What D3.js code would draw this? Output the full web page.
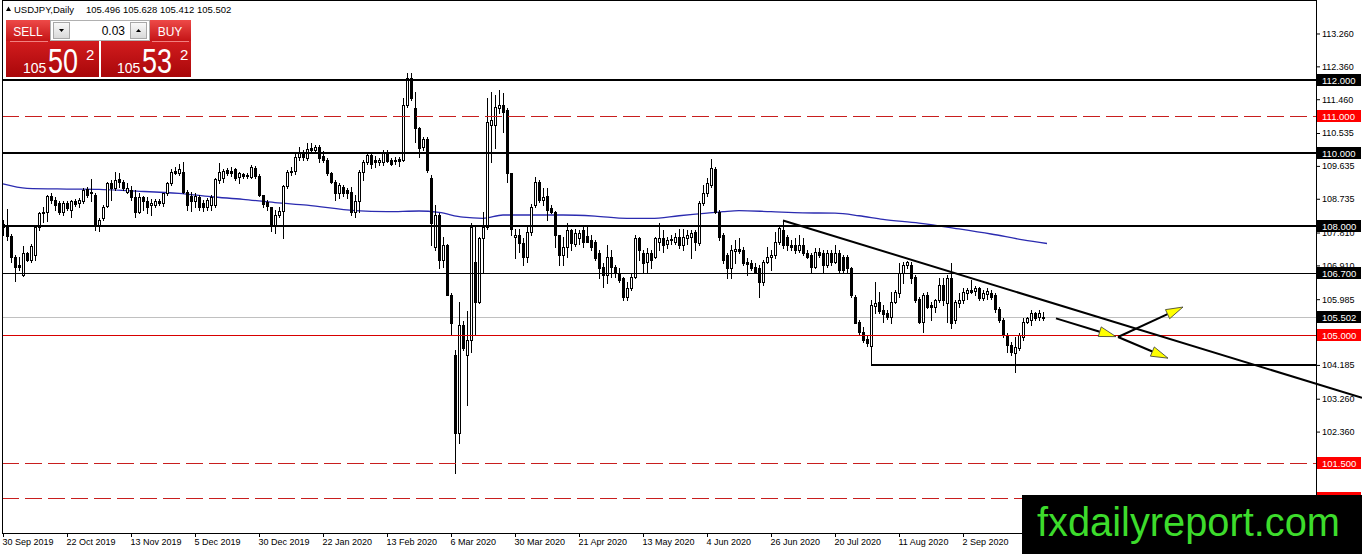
<!DOCTYPE html>
<meta charset="utf-8">
<style>
body { margin: 0; background: #fff; }
svg { display: block; }
text { font-family: "Liberation Sans", Arial, sans-serif; }
</style>
<svg width="1362" height="554"></svg>
<script src="https://cdn.jsdelivr.net/npm/d3@7/dist/d3.min.js"></script>
<script>

// daily candles, 30 Sep 2019 .. 30 Sep 2020 : [open, high, low, close]
var ohlc = [
  [107.95,108.15,107.74,108.04],[108.02,108.45,107.61,107.72],[107.72,107.78,107.01,107.15],[107.15,107.20,106.48,106.88],
  [106.92,107.15,106.78,106.88],[106.65,107.45,106.62,107.24],[107.24,107.29,107.03,107.06],[107.06,107.50,107.00,107.45],
  [107.20,107.97,107.06,107.95],[107.95,108.38,107.88,108.34],[108.34,108.52,108.10,108.38],[108.38,108.85,108.13,108.81],
  [108.80,108.88,108.61,108.70],[108.70,108.79,108.43,108.57],[108.62,108.66,108.33,108.36],[108.38,108.66,108.29,108.61],
  [108.61,108.66,108.43,108.47],[108.43,108.70,108.24,108.66],[108.67,108.72,108.55,108.58],[108.61,108.75,108.52,108.70],
  [108.66,109.02,108.63,108.97],[108.99,109.07,108.79,108.84],[108.88,109.27,108.66,108.93],[108.84,108.88,107.88,107.99],
  [107.99,108.20,107.86,108.15],[108.20,108.56,108.14,108.52],[108.54,109.20,108.52,109.16],[109.16,109.25,108.70,109.02],
  [109.02,109.48,108.97,109.25],[109.27,109.43,109.07,109.20],[109.20,109.25,108.97,109.02],[108.93,109.16,108.88,109.02],
  [108.97,109.08,108.70,108.79],[108.79,108.97,108.24,108.38],[108.38,108.88,108.34,108.79],[108.79,108.80,108.43,108.66],
  [108.66,108.79,108.34,108.52],[108.56,108.74,108.29,108.61],[108.57,108.72,108.50,108.66],[108.66,108.72,108.56,108.61],
  [108.61,108.90,108.55,108.88],[108.88,109.20,108.85,109.16],[109.16,109.55,109.10,109.48],[109.50,109.60,109.40,109.45],
  [109.45,109.68,109.38,109.55],[109.48,109.75,108.88,108.93],[108.93,108.97,108.43,108.56],[108.82,108.93,108.40,108.68],
  [108.68,108.88,108.52,108.80],[108.78,108.84,108.43,108.52],[108.62,108.70,108.40,108.52],[108.52,108.75,108.43,108.70],
  [108.56,108.84,108.43,108.79],[108.56,109.30,108.50,109.27],[109.25,109.71,109.16,109.48],[109.30,109.55,109.20,109.50],
  [109.52,109.57,109.38,109.43],[109.50,109.60,109.35,109.43],[109.55,109.57,109.25,109.30],[109.34,109.47,109.16,109.43],
  [109.40,109.45,109.30,109.36],[109.38,109.45,109.30,109.36],[109.34,109.66,109.29,109.60],[109.58,109.62,109.30,109.36],
  [109.36,109.40,108.80,108.84],[108.84,108.84,108.50,108.60],[108.65,108.70,108.43,108.55],[108.52,108.52,107.86,108.00],
  [108.02,108.43,107.80,108.30],[108.30,108.52,108.24,108.40],[108.40,109.10,107.65,109.08],[109.08,109.52,109.02,109.47],
  [109.47,109.61,109.38,109.50],[109.50,109.95,109.40,109.89],[109.89,110.16,109.80,109.98],[109.99,110.07,109.80,109.89],
  [109.85,110.25,109.80,110.10],[110.12,110.25,109.98,110.07],[110.07,110.20,110.00,110.15],[110.15,110.20,109.75,109.85],
  [109.90,110.05,109.75,109.80],[109.80,109.84,109.38,109.43],[109.43,109.47,109.16,109.20],[109.20,109.25,108.70,108.88],
  [108.88,109.16,108.75,109.10],[109.07,109.10,108.80,108.88],[108.97,109.02,108.75,108.90],[108.93,109.05,108.30,108.38],
  [108.38,108.84,108.24,108.66],[108.66,109.52,108.38,109.48],[109.48,109.80,109.25,109.75],[109.75,109.98,109.70,109.93],
  [109.93,109.98,109.57,109.70],[109.80,109.90,109.60,109.73],[109.75,109.85,109.65,109.80],[109.75,110.07,109.66,110.02],
  [110.02,110.07,109.75,109.78],[109.80,109.85,109.65,109.70],[109.78,109.89,109.70,109.80],[109.82,109.89,109.62,109.78],
  [109.80,111.50,109.78,111.30],[111.30,112.17,111.25,112.03],[112.03,112.17,111.43,111.48],[111.21,111.67,110.30,110.66],
  [110.66,110.70,109.89,110.12],[110.15,110.43,110.07,110.37],[110.37,110.43,109.48,109.52],[109.30,109.39,107.47,108.06],
  [107.42,108.56,107.33,108.29],[108.29,108.35,106.83,107.06],[107.06,107.70,106.87,107.47],[107.47,107.50,106.10,106.10],
  [106.10,106.15,105.00,105.32],[104.46,104.60,101.22,102.31],[102.31,105.92,102.04,105.28],[105.28,105.40,104.60,104.64],
  [104.46,105.65,103.09,104.87],[104.87,108.06,104.55,107.97],[107.00,107.97,105.00,105.92],[105.92,107.70,105.87,107.65],
  [107.65,108.38,106.74,107.97],[107.97,111.48,107.92,110.85],[110.75,111.67,109.75,110.89],[110.75,111.58,110.12,111.26],
  [111.21,111.71,111.07,111.30],[111.30,111.62,110.57,111.12],[111.16,111.21,109.20,109.43],[109.43,109.43,107.74,107.92],
  [107.69,107.92,107.10,107.74],[107.74,107.92,107.29,107.51],[107.51,107.65,106.92,107.15],[107.15,108.00,107.01,107.83],
  [107.83,108.60,107.75,108.52],[108.57,109.34,108.52,109.20],[109.20,109.25,108.65,108.70],[108.70,109.02,108.56,108.79],
  [108.80,109.02,108.15,108.43],[108.47,108.56,108.34,108.38],[108.36,108.39,107.42,107.74],[107.74,107.74,106.92,107.19],
  [107.19,107.70,106.92,107.42],[107.42,108.06,107.15,107.88],[107.88,107.92,107.33,107.51],[107.50,107.92,107.45,107.79],
  [107.65,107.88,107.50,107.79],[107.88,107.97,107.42,107.56],[107.72,107.97,107.56,107.56],[107.61,107.75,107.33,107.42],
  [107.56,107.61,107.06,107.10],[107.24,107.33,106.56,106.83],[106.88,106.97,106.33,106.65],[106.65,107.47,106.42,107.15],
  [107.15,107.33,106.60,106.88],[106.88,106.92,106.60,106.69],[106.69,106.83,106.46,106.51],[106.56,106.60,105.96,106.05],
  [106.05,106.46,105.96,106.28],[106.28,106.69,106.24,106.60],[106.60,107.74,106.56,107.65],[107.65,107.70,107.06,107.33],
  [107.24,107.33,106.74,106.97],[107.00,107.38,106.74,107.24],[107.24,107.33,106.83,107.06],[107.15,107.70,107.10,107.65],
  [107.55,108.06,107.33,107.65],[107.65,107.88,107.28,107.47],[107.50,107.70,107.40,107.60],[107.60,107.75,107.50,107.62],
  [107.56,107.79,107.50,107.70],[107.70,107.92,107.38,107.47],[107.47,107.92,107.33,107.70],[107.65,107.88,107.50,107.75],
  [107.70,107.88,107.10,107.79],[107.83,107.88,107.33,107.56],[107.51,108.66,107.46,108.61],[108.61,109.12,108.56,108.88],
  [108.88,109.30,108.80,109.16],[109.12,109.82,109.07,109.57],[109.54,109.60,108.34,108.38],[108.38,108.43,107.61,107.70],
  [107.74,107.79,106.97,107.06],[107.20,107.24,106.56,106.83],[106.83,107.47,106.56,107.33],[107.30,107.61,106.97,107.36],
  [107.36,107.65,107.24,107.30],[107.33,107.42,106.92,106.97],[107.00,107.10,106.65,106.95],[106.97,107.06,106.79,106.83],
  [106.88,106.97,106.74,106.74],[106.83,106.92,106.05,106.46],[106.46,107.06,106.37,107.01],[107.00,107.42,106.97,107.15],
  [107.15,107.33,106.79,107.20],[107.20,107.83,107.10,107.56],[107.56,108.02,107.50,107.93],[107.88,108.14,107.38,107.47],
  [107.70,107.74,107.33,107.47],[107.47,107.60,107.33,107.42],[107.47,107.65,107.24,107.33],[107.33,107.74,107.28,107.47],
  [107.47,107.65,107.20,107.24],[107.24,107.33,107.10,107.15],[107.20,107.24,106.69,106.88],[106.88,107.38,106.83,107.28],
  [107.28,107.38,107.15,107.19],[107.24,107.33,106.69,106.92],[106.92,107.33,106.88,107.24],[107.26,107.33,106.92,107.01],
  [107.01,107.47,106.97,107.24],[107.24,107.33,106.69,106.79],[107.15,107.20,106.74,106.79],[107.15,107.19,106.74,106.83],
  [106.83,106.88,106.05,106.10],[106.05,106.10,105.32,105.32],[105.37,105.42,105.00,105.10],[105.10,105.23,104.82,104.87],
  [104.90,105.00,104.69,104.78],[104.69,105.96,104.18,105.83],[105.80,106.46,105.60,105.87],[105.92,106.19,105.60,105.65],
  [105.70,105.82,105.37,105.58],[105.60,105.70,105.45,105.51],[105.51,106.19,105.32,105.92],[105.92,106.24,105.87,106.19],
  [106.15,106.97,106.05,106.69],[106.69,107.01,106.42,106.92],[106.92,107.04,106.85,107.00],[106.92,107.01,106.42,106.56],
  [106.60,106.65,105.92,105.96],[106.00,106.05,105.32,105.37],[105.37,106.15,105.10,106.10],[106.10,106.19,105.74,105.78],
  [105.82,105.92,105.41,105.78],[105.78,106.00,105.64,105.96],[105.96,106.56,105.92,106.37],[106.37,106.56,105.82,105.96],
  [105.87,106.65,105.37,106.56],[106.56,106.97,105.19,105.32],[105.41,105.96,105.32,105.92],[105.87,106.15,105.78,105.96],
  [105.96,106.28,105.87,106.19],[106.15,106.28,106.00,106.24],[106.24,106.51,106.15,106.19],[106.20,106.35,106.10,106.28],
  [106.28,106.33,105.96,106.01],[106.02,106.24,105.96,106.15],[106.12,106.28,106.00,106.20],[106.15,106.24,105.99,106.05],
  [106.10,106.15,105.64,105.73],[105.73,105.78,105.37,105.41],[105.41,105.46,104.96,105.00],[105.00,105.05,104.55,104.73],
  [104.73,104.82,104.46,104.55],[104.50,104.96,104.00,104.68],[104.64,105.05,104.59,105.00],[104.96,105.46,104.87,105.37],
  [105.37,105.51,105.32,105.46],[105.41,105.69,105.28,105.60],[105.60,105.64,105.41,105.46],[105.51,105.69,105.41,105.60],
  [105.496,105.628,105.412,105.502]
];

// moving average: [bar, price]
var maLine = [[0,109.14],[6,109.02],[16,109.00],[24,108.99],[32,108.95],[44,108.88],[52,108.79],[60,108.72],
  [68,108.63],[76,108.56],[88,108.41],[96,108.38],[104,108.40],[109,108.36],[115,108.23],[120,108.20],
  [125,108.29],[132,108.29],[140,108.29],[148,108.26],[156,108.20],[162,108.20],[169,108.27],[176,108.34],
  [180,108.38],[184,108.41],[192,108.38],[200,108.35],[208,108.34],[214,108.27],[220,108.17],[229,108.07],
  [239,107.91],[247,107.77],[255,107.61],[261,107.51]];

var dateLabels = ["30 Sep 2019","22 Oct 2019","13 Nov 2019","5 Dec 2019","30 Dec 2019","22 Jan 2020",
  "13 Feb 2020","6 Mar 2020","30 Mar 2020","21 Apr 2020","13 May 2020","4 Jun 2020","26 Jun 2020",
  "20 Jul 2020","11 Aug 2020","2 Sep 2020"];
var barsPerLabel = 16;

var priceTicks = [113.26, 112.36, 111.46, 110.535, 109.635, 108.735, 107.81, 106.91, 105.985, 104.185, 103.26, 102.36];

var blackLevels = [112, 110, 108];
var thinLevels = [106.7];
var redDashLevels = [111, 101.5, 100.551];
var redLevels = [105];
var supportStart = [217, 104.185];
var trendPoints = [[195, 108.14], [260, 105.96]];
var arrows = [
  [[263.25, 105.46], [278.25, 104.96]],
  [[278.75, 104.95], [295.0, 105.77]],
  [[278.75, 104.95], [291.25, 104.37]]
];

var symbol = "USDJPY,Daily";
var bidPrice = 105.502, askPrice = 105.532, lotSize = "0.03";
var siteName = "fxdailyreport.com";

var svg = d3.select("svg"),
    W = +svg.attr("width"),
    H = +svg.attr("height");
var plotL = 2, plotR = 1316, plotT = 1, plotB = 533;

var x = d3.scaleLinear().domain([0, 260]).range([3, 1043]);
var y = d3.scaleLinear().domain([101.5, 112]).range([463, 79.5]);
var snap = function(v) { return Math.round(v) + 0.5; };

svg.append("rect").attr("width", W).attr("height", H).attr("fill", "#fff");

var defs = svg.append("defs");
defs.append("clipPath").attr("id", "plotclip").append("rect")
    .attr("x", plotL).attr("y", plotT).attr("width", plotR - plotL).attr("height", plotB - plotT);
defs.append("clipPath").attr("id", "lowclip").append("rect")
    .attr("x", 1000).attr("y", 0).attr("width", 362).attr("height", 495);

function grad(id, c1, c2) {
  var g = defs.append("linearGradient").attr("id", id).attr("x1", 0).attr("y1", 0).attr("x2", 0).attr("y2", 1);
  g.append("stop").attr("offset", "0%").attr("stop-color", c1);
  g.append("stop").attr("offset", "100%").attr("stop-color", c2);
}
grad("redbtn", "#ee4a48", "#c41416");
grad("redbig", "#d21c1e", "#a8070a");
grad("greybtn", "#fafafa", "#d8d8d8");

var plot = svg.append("g").attr("clip-path", "url(#plotclip)");

// bid line
plot.append("line")
    .attr("x1", plotL).attr("x2", plotR)
    .attr("y1", snap(y(bidPrice))).attr("y2", snap(y(bidPrice)))
    .attr("stroke", "#c0c0c0").attr("stroke-width", 1);

// moving average
plot.append("path").datum(maLine)
    .attr("fill", "none").attr("stroke", "#2b2bb0").attr("stroke-width", 1.3)
    .attr("d", d3.line().x(function(d) { return x(d[0]); }).y(function(d) { return y(d[1]); }).curve(d3.curveMonotoneX));

// candles
var candles = plot.append("g").selectAll("g").data(ohlc).join("g");
candles.append("line")
    .attr("x1", function(d, i) { return snap(x(i)); })
    .attr("x2", function(d, i) { return snap(x(i)); })
    .attr("y1", function(d) { return Math.round(y(d[1])); })
    .attr("y2", function(d) { return Math.round(y(d[2])) + 1; })
    .attr("stroke", "#000").attr("stroke-width", 1);
candles.append("rect")
    .attr("x", function(d, i) { return Math.round(x(i)) - 0.5; })
    .attr("width", 2)
    .attr("y", function(d) { return Math.round(y(Math.max(d[0], d[3]))) + 0.5; })
    .attr("height", function(d) { return Math.max(1, Math.round(y(Math.min(d[0], d[3]))) - Math.round(y(Math.max(d[0], d[3])))); })
    .attr("fill", function(d) { return d[3] >= d[0] ? "#fff" : "#000"; })
    .attr("stroke", "#000").attr("stroke-width", 1);

// horizontal levels
function hlines(levels, color, width, dash) {
  plot.append("g").selectAll("line").data(levels).join("line")
      .attr("x1", plotL).attr("x2", plotR)
      .attr("y1", function(d) { return width % 2 ? snap(y(d)) : Math.round(y(d)); })
      .attr("y2", function(d) { return width % 2 ? snap(y(d)) : Math.round(y(d)); })
      .attr("stroke", color).attr("stroke-width", width)
      .attr("stroke-dasharray", dash);
}
hlines(blackLevels, "#000", 2, null);
hlines(thinLevels, "#000", 1, null);
hlines(redDashLevels, "#c81e1e", 1, "17,6");
hlines(redLevels, "#d80000", 1, null);

plot.append("line")
    .attr("x1", x(supportStart[0])).attr("x2", plotR)
    .attr("y1", Math.round(y(supportStart[1]))).attr("y2", Math.round(y(supportStart[1])))
    .attr("stroke", "#000").attr("stroke-width", 2);

// trend line, extended past the price scale
var t0 = trendPoints[0], t1 = trendPoints[1];
var tSlope = (t1[1] - t0[1]) / (t1[0] - t0[0]);
var tEnd = x.invert(W);
svg.append("line")
    .attr("x1", x(t0[0])).attr("y1", y(t0[1]))
    .attr("x2", W).attr("y2", y(t0[1] + tSlope * (tEnd - t0[0])))
    .attr("stroke", "#000").attr("stroke-width", 2);

// arrows
var arrowG = svg.append("g");
arrows.forEach(function(a) {
  var x1 = x(a[0][0]), y1 = y(a[0][1]), x2 = x(a[1][0]), y2 = y(a[1][1]);
  var ang = Math.atan2(y2 - y1, x2 - x1), len = 17, hw = 5;
  var bx = x2 - len * Math.cos(ang), by = y2 - len * Math.sin(ang);
  arrowG.append("line").attr("x1", x1).attr("y1", y1).attr("x2", bx).attr("y2", by)
      .attr("stroke", "#000").attr("stroke-width", 2);
  var px = -Math.sin(ang) * hw, py = Math.cos(ang) * hw;
  arrowG.append("path")
      .attr("d", "M" + x2 + "," + y2 + "L" + (bx + px) + "," + (by + py) + "L" + (bx - px) + "," + (by - py) + "Z")
      .attr("fill", "#ffff00").attr("stroke", "#333").attr("stroke-width", 0.8);
});

// frame
svg.append("rect")
    .attr("x", plotL + 0.5).attr("y", plotT - 0.5).attr("width", plotR - plotL).attr("height", plotB - plotT + 1)
    .attr("fill", "none").attr("stroke", "#000").attr("stroke-width", 1);

// price scale
var yAxis = d3.axisRight(y).tickValues(priceTicks).tickFormat(d3.format(".3f")).tickSize(4).tickPadding(2);
var yg = svg.append("g").attr("transform", "translate(" + plotR + ",0)").call(yAxis);
yg.select(".domain").remove();
yg.selectAll("text").attr("font-size", 9).attr("font-family", "Liberation Sans, Arial, sans-serif").attr("fill", "#000");
yg.selectAll("line").attr("stroke", "#000");

// price labels on the scale
function priceLabels(levels, color, g) {
  var lg = g.selectAll("g").data(levels).join("g")
      .attr("transform", function(d) { return "translate(" + (plotR + 1) + "," + Math.round(y(d)) + ")"; });
  lg.append("rect").attr("x", 0).attr("y", -6).attr("width", 44).attr("height", 12).attr("fill", color);
  lg.append("text").attr("x", 5).attr("y", 3.5).attr("font-size", 9.5).attr("fill", "#fff")
      .text(function(d) { return d3.format(".3f")(d); });
}
priceLabels(blackLevels.concat(thinLevels, [bidPrice]), "#000", svg.append("g"));
priceLabels(redDashLevels.concat(redLevels), "#ff0000", svg.append("g").attr("clip-path", "url(#lowclip)"));

// date scale
var xAxis = d3.axisBottom(x)
    .tickValues(dateLabels.map(function(d, i) { return i * barsPerLabel; }))
    .tickFormat(function(d, i) { return dateLabels[i]; })
    .tickSize(4).tickPadding(2);
var xg = svg.append("g").attr("transform", "translate(0," + plotB + ")").call(xAxis);
xg.select(".domain").remove();
xg.selectAll("text").attr("font-size", 9).attr("font-family", "Liberation Sans, Arial, sans-serif")
    .attr("fill", "#000").attr("text-anchor", "start").attr("dx", -1);
xg.selectAll("line").attr("stroke", "#000");

// header
var last = ohlc[ohlc.length - 1];
svg.append("path").attr("d", "M6,11L8.5,6.5L11,11Z").attr("fill", "#000");
svg.append("text").attr("x", 14).attr("y", 13).attr("font-size", 9.5).text(symbol);
svg.append("text").attr("x", 86).attr("y", 13).attr("font-size", 9.5)
    .text(last.map(function(v) { return d3.format(".3f")(v); }).join(" "));

// one-click trading panel
var panel = svg.append("g");
panel.append("rect").attr("x", 6).attr("y", 20).attr("width", 44).attr("height", 21).attr("fill", "url(#redbtn)");
panel.append("rect").attr("x", 150).attr("y", 20).attr("width", 41).attr("height", 21).attr("fill", "url(#redbtn)");
panel.append("rect").attr("x", 6).attr("y", 41).attr("width", 93).attr("height", 36).attr("fill", "url(#redbig)");
panel.append("rect").attr("x", 101).attr("y", 41).attr("width", 90).attr("height", 36).attr("fill", "url(#redbig)");
panel.append("line").attr("x1", 10).attr("x2", 48).attr("y1", 41.5).attr("y2", 41.5).attr("stroke", "#f28080");
panel.append("line").attr("x1", 152).attr("x2", 189).attr("y1", 41.5).attr("y2", 41.5).attr("stroke", "#f28080");
panel.append("rect").attr("x", 50.5).attr("y", 20.5).attr("width", 99).attr("height", 20).attr("fill", "#fff").attr("stroke", "#b0b0b0");
panel.append("rect").attr("x", 53.5).attr("y", 22.5).attr("width", 16).attr("height", 16).attr("fill", "url(#greybtn)").attr("stroke", "#a8a8a8");
panel.append("rect").attr("x", 130.5).attr("y", 22.5).attr("width", 16).attr("height", 16).attr("fill", "url(#greybtn)").attr("stroke", "#a8a8a8");
panel.append("path").attr("d", "M59,29L64,29L61.5,32Z").attr("fill", "#000");
panel.append("path").attr("d", "M136,32L141,32L138.5,29Z").attr("fill", "#000");
panel.append("text").attr("x", 125).attr("y", 35).attr("text-anchor", "end").attr("font-size", 12).attr("fill", "#000").text(lotSize);
panel.append("text").attr("x", 28).attr("y", 35.5).attr("text-anchor", "middle").attr("font-size", 12).attr("fill", "#fff").text("SELL");
panel.append("text").attr("x", 170).attr("y", 35.5).attr("text-anchor", "middle").attr("font-size", 12).attr("fill", "#fff").text("BUY");

function quote(price, x0) {
  var s = d3.format(".3f")(price), big = s.split(".")[0], dec = s.split(".")[1];
  panel.append("text").attr("x", x0).attr("y", 73).attr("font-size", 14).attr("fill", "#fff").text(big);
  panel.append("text").attr("x", x0 + 25).attr("y", 73).attr("font-size", 35).attr("fill", "#fff")
      .attr("textLength", 30).attr("lengthAdjust", "spacingAndGlyphs").text(dec.slice(0, 2));
  panel.append("text").attr("x", x0 + 63).attr("y", 60).attr("font-size", 15).attr("fill", "#fff").text(dec.slice(2));
}
quote(bidPrice, 23);
quote(askPrice, 117);

// watermark
svg.append("rect").attr("x", 1022).attr("y", 495).attr("width", W - 1022).attr("height", H - 495).attr("fill", "#000");
svg.append("text").attr("x", 1037).attr("y", 536).attr("font-size", 41)
    .attr("textLength", 303).attr("lengthAdjust", "spacingAndGlyphs")
    .attr("fill", "#3ddc2c").text(siteName);

</script>
